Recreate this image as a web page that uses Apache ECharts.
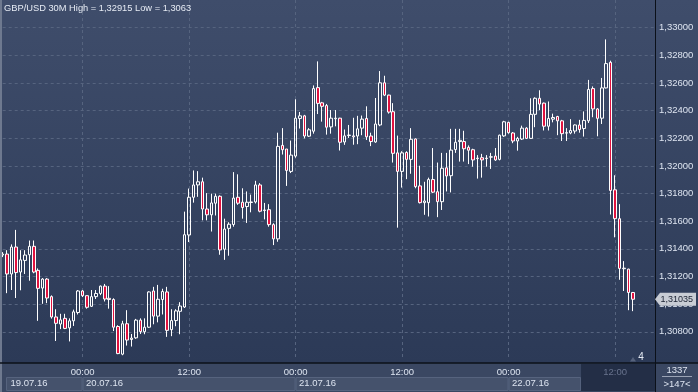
<!DOCTYPE html>
<html><head><meta charset="utf-8">
<script src="https://cdn.jsdelivr.net/npm/echarts@6/dist/echarts.min.js"></script>
<style>html,body{margin:0;padding:0;background:#2c3a58;}#c{width:698px;height:392px;}</style>
</head><body><div id="c"></div>
<script>
// ---- data (GBP/USD 30M candles, 19.07.16 15:00 .. 22.07.16 14:00) ----
const opens = [1.31355,1.31362,1.31218,1.31413,1.31232,1.31316,1.31357,1.31418,1.31244,1.31116,
1.31181,1.31054,1.30907,1.30856,1.30897,1.30828,1.30879,1.30939,1.31095,1.31061,
1.30984,1.31054,1.31077,1.31130,1.31042,1.31033,1.30838,1.30638,1.30858,1.30744,
1.30756,1.30884,1.30800,1.30833,1.31095,1.30913,1.31033,1.31088,1.30815,1.30881,
1.30948,1.30979,1.31500,1.31773,1.31862,1.31885,1.31688,1.31646,1.31730,1.31780,
1.31397,1.31548,1.31576,1.31773,1.31737,1.31706,1.31735,1.31739,1.31862,1.31681,
1.31683,1.31575,1.31472,1.32148,1.32122,1.31960,1.32071,1.32343,1.32362,1.32215,
1.32251,1.32566,1.32456,1.32436,1.32282,1.32341,1.32345,1.32173,1.32220,1.32217,
1.32216,1.32273,1.32343,1.32216,1.32173,1.32296,1.32601,1.32512,1.32392,1.32094,
1.31960,1.32097,1.32047,1.32195,1.31855,1.31734,1.31734,1.31901,1.31813,1.31741,
1.31986,1.31929,1.32118,1.32176,1.32176,1.32134,1.32117,1.32056,1.32059,1.32053,
1.32063,1.32071,1.32047,1.32217,1.32315,1.32238,1.32180,1.32194,1.32273,1.32199,
1.32373,1.32489,1.32454,1.32287,1.32338,1.32357,1.32326,1.32237,1.32238,1.32252,
1.32296,1.32270,1.32326,1.32559,1.32412,1.32345,1.32564,1.32749,1.31827,1.31618,
1.31256,1.31253,1.31084];
const closes = [1.31362,1.31218,1.31413,1.31228,1.31320,1.31355,1.31418,1.31232,1.31114,1.31181,
1.31044,1.30907,1.30861,1.30886,1.30824,1.30879,1.30944,1.31095,1.31061,1.30977,
1.31054,1.31077,1.31130,1.31037,1.31033,1.30833,1.30642,1.30858,1.30740,1.30754,
1.30884,1.30801,1.30833,1.31088,1.30913,1.31035,1.31091,1.30810,1.30881,1.30951,
1.30986,1.31502,1.31773,1.31862,1.31885,1.31688,1.31646,1.31732,1.31780,1.31392,
1.31543,1.31578,1.31767,1.31730,1.31699,1.31737,1.31739,1.31862,1.31672,1.31677,
1.31575,1.31472,1.32141,1.32117,1.31967,1.32078,1.32345,1.32362,1.32216,1.32261,
1.32559,1.32452,1.32431,1.32280,1.32345,1.32345,1.32171,1.32217,1.32223,1.32210,
1.32268,1.32338,1.32210,1.32176,1.32303,1.32601,1.32512,1.32389,1.32091,1.31960,
1.32094,1.32047,1.32192,1.31850,1.31734,1.31746,1.31901,1.31810,1.31741,1.31983,
1.31927,1.32114,1.32171,1.32185,1.32124,1.32113,1.32043,1.32053,1.32043,1.32056,
1.32066,1.32043,1.32222,1.32319,1.32240,1.32180,1.32199,1.32273,1.32199,1.32373,
1.32489,1.32447,1.32287,1.32343,1.32350,1.32326,1.32233,1.32240,1.32256,1.32296,
1.32263,1.32329,1.32553,1.32412,1.32344,1.32564,1.32740,1.31822,1.31618,1.31258,
1.31260,1.31084,1.31035];
const lows = [1.31340,1.31079,1.31102,1.31044,1.31100,1.31218,1.31169,1.31223,1.30879,1.31002,
1.31007,1.30895,1.30733,1.30819,1.30819,1.30730,1.30842,1.30925,1.31051,1.30967,
1.30979,1.31037,1.31065,1.31019,1.30967,1.30805,1.30638,1.30630,1.30700,1.30693,
1.30749,1.30784,1.30782,1.30828,1.30854,1.30868,1.30925,1.30763,1.30768,1.30840,
1.30782,1.30972,1.31449,1.31734,1.31776,1.31606,1.31606,1.31525,1.31641,1.31357,
1.31320,1.31350,1.31560,1.31718,1.31618,1.31587,1.31664,1.31728,1.31664,1.31613,
1.31560,1.31427,1.31451,1.32082,1.31855,1.31948,1.32059,1.32270,1.32199,1.32209,
1.32233,1.32375,1.32320,1.32226,1.32233,1.32286,1.32111,1.32152,1.32202,1.32153,
1.32157,1.32222,1.32187,1.32143,1.32167,1.32287,1.32505,1.32378,1.32024,1.31553,
1.31843,1.31904,1.31943,1.31838,1.31728,1.31646,1.31634,1.31803,1.31629,1.31681,
1.31815,1.31808,1.32094,1.32031,1.32031,1.32013,1.31994,1.31908,1.31915,1.31994,
1.31978,1.32036,1.32040,1.32210,1.32233,1.32164,1.32110,1.32187,1.32194,1.32195,
1.32280,1.32403,1.32256,1.32256,1.32315,1.32222,1.32180,1.32180,1.32229,1.32233,
1.32240,1.32212,1.32310,1.32352,1.32214,1.32303,1.32560,1.31648,1.31483,1.31176,
1.31095,1.30956,1.30949];
const highs = [1.31376,1.31390,1.31432,1.31537,1.31390,1.31390,1.31460,1.31460,1.31258,1.31188,
1.31188,1.31063,1.30963,1.30930,1.30930,1.30897,1.30960,1.31102,1.31102,1.31063,
1.31102,1.31102,1.31134,1.31146,1.31130,1.31042,1.30847,1.30879,1.30956,1.30784,
1.30893,1.30897,1.30897,1.31093,1.31125,1.31139,1.31111,1.31125,1.30963,1.30963,
1.31014,1.31669,1.31836,1.31967,1.31962,1.31915,1.31803,1.31799,1.31799,1.31787,
1.31618,1.31592,1.31955,1.31939,1.31838,1.31815,1.31792,1.31892,1.31875,1.31732,
1.31723,1.31585,1.32240,1.32273,1.32122,1.32183,1.32482,1.32390,1.32369,1.32273,
1.32582,1.32756,1.32463,1.32448,1.32404,1.32404,1.32348,1.32263,1.32296,1.32348,
1.32362,1.32364,1.32431,1.32240,1.32491,1.32686,1.32652,1.32515,1.32454,1.32219,
1.32106,1.32106,1.32273,1.32199,1.32001,1.31885,1.31915,1.32129,1.32024,1.32094,
1.32094,1.32268,1.32268,1.32268,1.32254,1.32148,1.32124,1.32078,1.32087,1.32078,
1.32094,1.32129,1.32226,1.32326,1.32319,1.32245,1.32210,1.32291,1.32280,1.32489,
1.32496,1.32547,1.32458,1.32466,1.32378,1.32362,1.32333,1.32273,1.32338,1.32300,
1.32333,1.32394,1.32622,1.32575,1.32418,1.32636,1.32915,1.32761,1.31932,1.31723,
1.31311,1.31256,1.31088];
const dateLabels = ['19.07.16','20.07.16','21.07.16','22.07.16'];
const timeTicks = ['00:00','12:00'];
const titleText = 'GBP/USD 30M High = 1,32915 Low = 1,3063';
const lastPriceText = '1,31035';
const barCountText = '1337';
const scrollText = '>147<';

// categories: 30-minute slots from 19.07 15:00 (148 slots incl. empty future)
const categories = [];
{
  let d = 19, mins = 15 * 60;
  for (let i = 0; i < 148; i++) {
    const hh = String(Math.floor(mins / 60)).padStart(2, '0');
    const mm = String(mins % 60).padStart(2, '0');
    categories.push(d + '.07 ' + hh + ':' + mm);
    mins += 30;
    if (mins >= 1440) { mins -= 1440; d++; }
  }
}
const candles = opens.map((o, i) => [o, closes[i], lows[i], highs[i]]);
const isTick = (v) => timeTicks.indexOf(v.slice(6)) >= 0;

const FONT = '"Liberation Sans", Arial, sans-serif';
const chart = echarts.init(document.getElementById('c'));
chart.setOption({
  animation: false,
  grid: { left: 2.7, right: 43, top: -13.7, bottom: 32.6, containLabel: false },
  xAxis: {
    type: 'category', data: categories, boundaryGap: false,
    axisLine: { show: false }, axisTick: { show: false },
    axisLabel: {
      interval: (idx, v) => isTick(v), formatter: (v) => v.slice(6),
      color: (v) => v === '22.07 12:00' ? '#68738d' : '#dde4f0',
      fontSize: 9.5, fontFamily: FONT, margin: 7.5
    },
    splitLine: { show: true, interval: (idx, v) => isTick(v),
      lineStyle: { color: '#56647f', type: [3, 3], width: 1 } }
  },
  yAxis: {
    type: 'value', position: 'right', min: 1.306, max: 1.332, interval: 0.002, scale: true,
    axisLine: { show: false }, axisTick: { show: false },
    axisLabel: { showMinLabel: false, showMaxLabel: false, margin: 4,
      formatter: (v) => v.toFixed(5).replace('.', ','),
      color: '#dde4f0', fontSize: 9.5, fontFamily: FONT },
    splitLine: { show: true, showMinLine: false, showMaxLine: false,
      lineStyle: { color: '#56647f', type: [3, 3], width: 1 } }
  },
  series: [{
    type: 'candlestick', data: candles, barWidth: 3, clip: true,
    itemStyle: { color: 'rgba(0,0,0,0)', color0: '#e0123f', borderColor: '#ffffff', borderColor0: '#ffffff', borderWidth: 1 },
    emphasis: { disabled: true }
  }]
});

const px = (cat) => chart.convertToPixel({ xAxisIndex: 0 }, cat);
const py = (v) => chart.convertToPixel({ yAxisIndex: 0 }, v);
const xDay = [px(categories[18]), px(categories[66]), px(categories[114])];
const darkLeft = px(categories[130]) + 1.5;
const boxes = [[6, xDay[0]], [xDay[0], xDay[1]], [xDay[1], xDay[2]], [xDay[2], darkLeft]];
const yLast = py(closes[closes.length - 1]);

const g = [];
g.push({ type: 'rect', z: -10, silent: true, shape: { x: 0, y: 0, width: 698, height: 363 },
  style: { fill: new echarts.graphic.LinearGradient(0, 0, 0, 1, [{ offset: 0, color: '#3f4d6b' }, { offset: 1, color: '#2c3a57' }]) } });
g.push({ type: 'rect', z: -10, silent: true, shape: { x: 0, y: 363, width: 698, height: 29 }, style: { fill: '#3a4762' } });
boxes.forEach((b, i) => {
  g.push({ type: 'rect', z: -9, silent: true, shape: { x: b[0] + 0.5, y: 377.5, width: b[1] - b[0] - 1, height: 13 },
    style: { fill: '#45526c', stroke: '#56637e', lineWidth: 1 } });
  g.push({ type: 'text', z: 20, silent: true, x: b[0] + (i === 0 ? 4.5 : 3.5), y: 383.5,
    style: { text: dateLabels[i], fill: '#dde4f0', font: '9.5px ' + FONT, align: 'left', verticalAlign: 'middle' } });
});
g.push({ type: 'rect', z: -8, silent: true, shape: { x: darkLeft, y: 364, width: 655 - darkLeft, height: 27 }, style: { fill: '#232e46' } });
g.push({ type: 'rect', z: 50, silent: true, shape: { x: 0, y: 0, width: 2, height: 392 }, style: { fill: '#6e798f' } });
g.push({ type: 'line', z: 50, silent: true, shape: { x1: 0, y1: 363, x2: 698, y2: 363 }, style: { stroke: '#0b1019', lineWidth: 1.5 } });
g.push({ type: 'line', z: 50, silent: true, shape: { x1: 655.5, y1: 0, x2: 655.5, y2: 392 }, style: { stroke: '#0b1019', lineWidth: 1 } });
g.push({ type: 'text', z: 50, silent: true, x: 677, y: 370.5,
  style: { text: barCountText, fill: '#dde4f0', font: '9.5px ' + FONT, align: 'center', verticalAlign: 'middle' } });
g.push({ type: 'line', z: 50, silent: true, shape: { x1: 662, y1: 376.5, x2: 692, y2: 376.5 }, style: { stroke: '#9aa3b5', lineWidth: 1 } });
g.push({ type: 'text', z: 50, silent: true, x: 677, y: 384,
  style: { text: scrollText, fill: '#dde4f0', font: '9.5px ' + FONT, align: 'center', verticalAlign: 'middle' } });
g.push({ type: 'text', z: 50, silent: true, x: 4, y: 8,
  style: { text: titleText, fill: '#e6ebf4', font: '9.3px ' + FONT, align: 'left', verticalAlign: 'middle' } });
g.push({ type: 'polygon', z: 60, silent: true,
  shape: { points: [[655, yLast], [660, yLast - 6.5], [696, yLast - 6.5], [696, yLast + 6.5], [660, yLast + 6.5]] },
  style: { fill: '#c8ccd4' } });
g.push({ type: 'text', z: 61, silent: true, x: 660.5, y: yLast,
  style: { text: lastPriceText, fill: '#1a2131', font: '9px ' + FONT, align: 'left', verticalAlign: 'middle' } });
g.push({ type: 'polygon', z: 60, silent: true, shape: { points: [[630, 361.5], [633, 357], [636, 361.5]] }, style: { fill: '#56627c' } });
g.push({ type: 'text', z: 60, silent: true, x: 641, y: 357.5,
  style: { text: '4', fill: '#e6ebf4', font: '10px ' + FONT, align: 'center', verticalAlign: 'middle' } });
chart.setOption({ graphic: g });
</script></body></html>
